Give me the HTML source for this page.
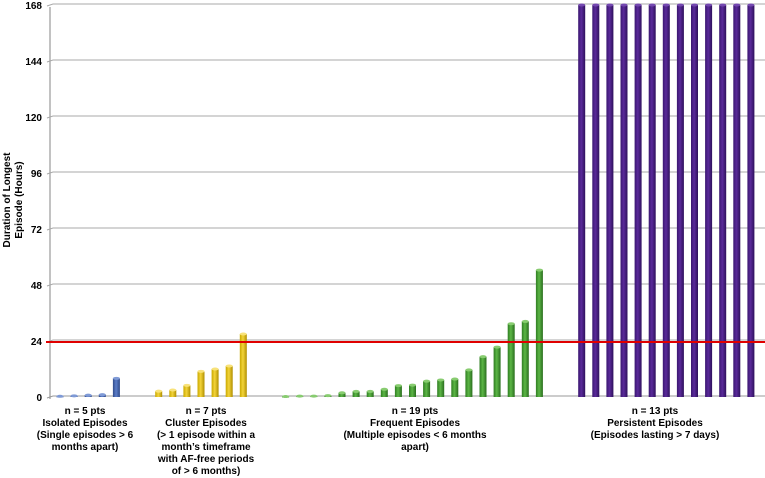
<!DOCTYPE html>
<html><head><meta charset="utf-8"><style>
body{margin:0;background:#fff;}
svg{display:block;font-family:"Liberation Sans",Arial,sans-serif;}
</style></head><body>
<svg id="chart" width="765" height="478" viewBox="0 0 765 478">
<defs>
<linearGradient id="gb" x1="0" x2="1"><stop offset="0" stop-color="#2f4a8a"/><stop offset="0.45" stop-color="#5b7dc8"/><stop offset="1" stop-color="#2f4a8a"/></linearGradient>
<linearGradient id="gy" x1="0" x2="1"><stop offset="0" stop-color="#c9a800"/><stop offset="0.45" stop-color="#f3d43a"/><stop offset="1" stop-color="#b08f00"/></linearGradient>
<linearGradient id="gg" x1="0" x2="1"><stop offset="0" stop-color="#2f7d22"/><stop offset="0.45" stop-color="#5cb646"/><stop offset="1" stop-color="#2a6e1e"/></linearGradient>
<linearGradient id="gp" x1="0" x2="1"><stop offset="0" stop-color="#3a1670"/><stop offset="0.45" stop-color="#5a2a9a"/><stop offset="1" stop-color="#2e105c"/></linearGradient>
</defs>
<g id="grid"></g><g id="bars"></g><g id="ref"></g><g id="labels"></g>
<text transform="translate(14,200) rotate(-90)" text-anchor="middle" font-size="10" font-weight="bold"><tspan x="0" y="-4">Duration of Longest</tspan><tspan x="0" y="8">Episode (Hours)</tspan></text>
</svg>
<script>
const yTicks=[0,24,48,72,96,120,144,168];
const blueVals=[0.3,0.5,0.8,1,8];
const yellowVals=[2.5,3,5,11,12,13.3,27];
const greenVals=[0.2,0.4,0.4,0.6,1.8,2.4,2.4,3.3,4.9,5.1,6.8,7.3,7.7,11.6,17.3,21.4,31.4,32.4,54.4];
const purpleVals=[168,168,168,168,168,168,168,168,168,168,168,168,168];
const groupStarts=[0,7,16,37];
const threshold=24;
const groupLabels=[
 ["n = 5 pts","Isolated Episodes","(Single episodes > 6","months apart)"],
 ["n = 7 pts","Cluster Episodes","(> 1 episode within  a","month’s timeframe","with AF-free periods","of > 6 months)"],
 ["n = 19 pts","Frequent Episodes","(Multiple episodes < 6 months","apart)"],
 ["n = 13 pts","Persistent Episodes","(Episodes lasting > 7 days)"]
];
const NS="http://www.w3.org/2000/svg";
const y=v=>397-v*(392/168);
const x=i=>60+i*14.1;
function mk(t,a,p){const e=document.createElementNS(NS,t);for(const k in a)e.setAttribute(k,a[k]);p.appendChild(e);return e;}
const grid=document.getElementById('grid');
mk('line',{x1:50,y1:y(0)+2,x2:50,y2:y(168)+2,stroke:'#999','stroke-width':1.2},grid);
yTicks.forEach(v=>{
 const g=mk('g',{},grid);
 
 
 mk('polyline',{points:`47,${y(v)+1} 53,${y(v)-1} 765,${y(v)-1}`,fill:'none',stroke:v===0?'#999':'#aaa','stroke-width':1},g);
 const t=mk('text',{x:42,y:y(v)+4,'text-anchor':'end','font-size':10,'font-weight':'bold'},g);t.textContent=v;
});
const bars=document.getElementById('bars');
const sets=[[blueVals,'gb','#7f9ad6'],[yellowVals,'gy','#f8e27a'],[greenVals,'gg','#88cc70'],[purpleVals,'gp','#7448b0']];
sets.forEach((s,gi)=>{
 s[0].forEach((v,j)=>{
  const cx=x(groupStarts[gi]+j), top=y(v), w=7;
  const g=mk('g',{},bars);
  
  
  mk('rect',{x:cx-w/2,y:top,width:w,height:Math.max(397-top,1),fill:`url(#${s[1]})`},g);
  mk('ellipse',{cx:cx,cy:top,rx:w/2,ry:1.5,fill:s[2]},g);
 });
});
const ref=document.getElementById('ref');
const rl=mk('line',{x1:46,y1:y(threshold)+1,x2:765,y2:y(threshold)+1,stroke:'#e00000','stroke-width':2},ref);


const labels=document.getElementById('labels');
const centers=[85,206,415,655];
groupLabels.forEach((lines,gi)=>{
 const t=mk('text',{'text-anchor':'middle','font-size':10,'font-weight':'bold'},labels);
 
 
 lines.forEach((l,k)=>{const ts=mk('tspan',{x:centers[gi],y:414+k*12},t);ts.textContent=l;});
});
</script>
</body></html>
